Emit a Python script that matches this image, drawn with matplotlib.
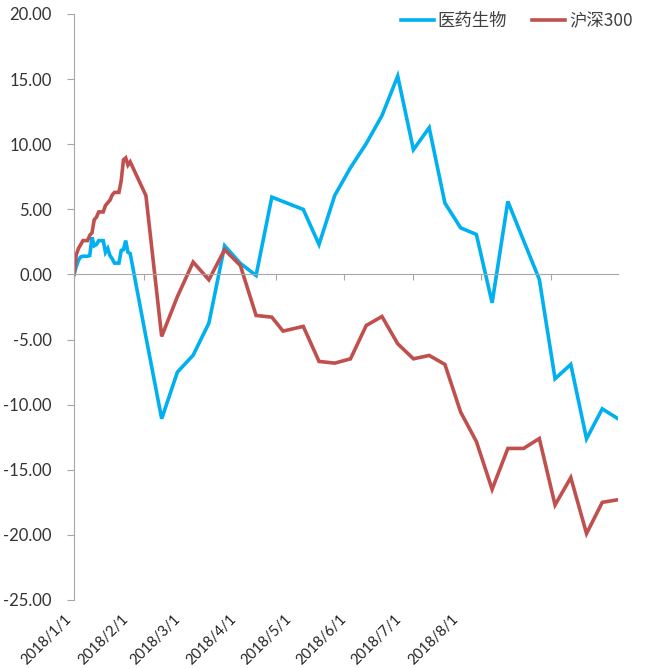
import matplotlib
matplotlib.use('Agg')
import matplotlib.pyplot as plt
import matplotlib.ticker as ticker
import pandas as pd

# January: calendar-daily (weekends repeat Friday), then weekly closes
daily_dates = pd.date_range('2018-01-01', '2018-01-26', freq='D')
weekly_dates = pd.to_datetime([
    '2018-02-02', '2018-02-09', '2018-02-16', '2018-02-23', '2018-03-02',
    '2018-03-09', '2018-03-16', '2018-03-23', '2018-03-30', '2018-04-04',
    '2018-04-13', '2018-04-20', '2018-04-27', '2018-05-04', '2018-05-11',
    '2018-05-18', '2018-05-25', '2018-06-01', '2018-06-08', '2018-06-15',
    '2018-06-22', '2018-06-29', '2018-07-06', '2018-07-13', '2018-07-20',
    '2018-07-27', '2018-08-03', '2018-08-10', '2018-08-17', '2018-08-24',
    '2018-08-31'])

pharma_daily = [0.0, 0.6, 1.1, 1.35, 1.4, 1.4, 1.4, 1.45, 2.85, 2.2, 2.3, 2.6, 2.6,
                2.6, 1.7, 2.0, 1.45, 1.2, 0.87, 0.87, 0.87, 1.85, 1.9, 2.6, 1.7, 1.6]
hs300_daily = [0.0, 1.5, 2.0, 2.3, 2.6, 2.6, 2.6, 3.0, 3.2, 4.2, 4.4, 4.8, 4.8,
               4.8, 5.3, 5.5, 5.7, 6.1, 6.3, 6.3, 6.3, 7.2, 8.8, 8.95, 8.4, 8.65]

pharma_weekly = [-4.8, -11.08, -7.5, -6.2, -3.74, 2.2, 0.85, -0.08, 5.94, 5.6,
                 4.99, 2.30, 6.07, 8.2, 10.05, 12.2, 15.23, 9.58, 11.27, 5.48,
                 3.58, 3.07, -2.18, 5.61, 2.6, -0.38, -8.01, -6.91, -12.62,
                 -10.32, -11.08]
hs300_weekly = [6.05, -4.76, -1.7, 0.95, -0.41, 1.9, 0.69, -3.15, -3.28, -4.35,
                -3.99, -6.68, -6.81, -6.48, -3.92, -3.23, -5.32, -6.48, -6.22,
                -6.91, -10.57, -12.83, -16.5, -13.36, -13.36, -12.6, -17.7,
                -15.6, -19.9, -17.5, -17.3]

dates = list(daily_dates) + list(weekly_dates)
pharma = pharma_daily + pharma_weekly
hs300 = hs300_daily + hs300_weekly

month_ticks = pd.date_range('2018-01-01', '2018-08-01', freq='MS')
tick_labels = ['2018/1/1', '2018/2/1', '2018/3/1', '2018/4/1',
               '2018/5/1', '2018/6/1', '2018/7/1', '2018/8/1']

plt.rcParams['font.family'] = ['Lato', 'Noto Sans CJK SC', 'DejaVu Sans']

fig = plt.figure(figsize=(6.45, 6.68), dpi=100)
ax = fig.add_axes([74/645, 68/668, 544/645, 586/668])

ax.plot(dates, pharma, color='#00B0F0', lw=2.6, label='医药生物', solid_joinstyle='miter')
ax.plot(dates, hs300, color='#C0504D', lw=2.6, label='沪深300', solid_joinstyle='miter')

ax.set_xlim(pd.Timestamp('2018-01-01'), pd.Timestamp('2018-08-31'))
ax.set_ylim(-25, 20)
ax.yaxis.set_major_locator(ticker.MultipleLocator(5))
ax.yaxis.set_major_formatter(ticker.FormatStrFormatter('%.2f'))

grey = '#A6A6A6'
for s in ['top', 'right']:
    ax.spines[s].set_visible(False)
ax.spines['left'].set_color(grey)
ax.spines['bottom'].set_color(grey)
ax.spines['bottom'].set_position(('data', 0))
ax.set_xticks(month_ticks)
ax.xaxis.set_major_formatter(ticker.NullFormatter())
ax.tick_params(axis='x', direction='out', length=4, color=grey)
ax.tick_params(axis='y', direction='out', length=5, color=grey, pad=11,
               labelsize=12, labelcolor='#333333')

# rotated date labels under the plot
label_x = [64, 121, 173, 229, 284, 339, 394, 451]
for px, lab in zip(label_x, tick_labels):
    ax.text((px - 74) / 544, -0.02, lab, transform=ax.transAxes,
            rotation=45, rotation_mode='anchor', ha='right', va='top',
            fontsize=10.5, color='#222222')

fig.legend(loc='upper right', bbox_to_anchor=(1.005, 1.005), ncol=2, frameon=False,
           handlelength=1.9, columnspacing=1.4, handletextpad=0.25,
           labelcolor='#404040', prop={'family': ['Noto Sans CJK SC'], 'size': 12.5})

fig.savefig('out.png', dpi=100)
